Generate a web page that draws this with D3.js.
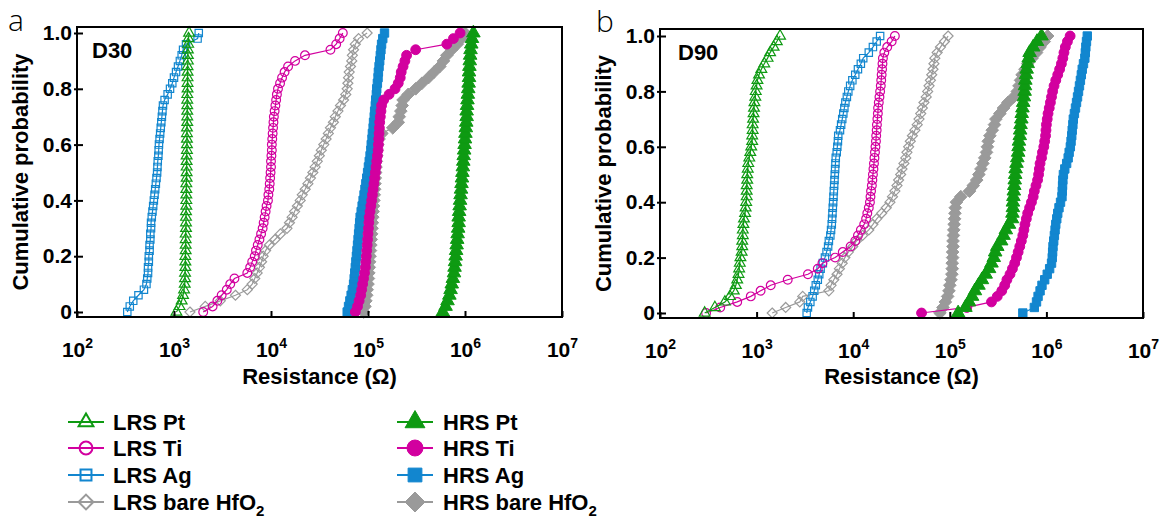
<!DOCTYPE html>
<html>
<head>
<meta charset="utf-8">
<script src="https://cdn.jsdelivr.net/npm/d3@7"></script>
<style>
  html, body { margin: 0; padding: 0; background: #fff; }
  svg { display: block; }
  text { font-family: "Liberation Sans", Arial, Helvetica, sans-serif; font-weight: bold; fill: #000; }
</style>
</head>
<body>
<svg id="chart" width="1168" height="521"></svg>
<script>
// Cumulative probability level of every measured point (rank-ordered)
const cumulativeProbability = [0,0.02,0.04,0.06,0.08,0.1,0.12,0.14,0.16,0.18,0.2,0.22,0.24,0.26,0.28,0.3,0.32,0.34,0.36,0.38,0.4,0.42,0.44,0.46,0.48,0.5,0.52,0.54,0.56,0.58,0.6,0.62,0.64,0.66,0.68,0.7,0.72,0.74,0.76,0.78,0.8,0.82,0.84,0.86,0.88,0.9,0.92,0.94,0.96,0.98,1];

const yTickValues = [0, 0.2, 0.4, 0.6, 0.8, 1.0];
const yTickLabels = ["0", "0.2", "0.4", "0.6", "0.8", "1.0"];
const xTickExponents = [2, 3, 4, 5, 6, 7];

const seriesNames = ["LRS Pt", "LRS Ti", "LRS Ag", "LRS bare HfO2", "HRS Pt", "HRS Ti", "HRS Ag", "HRS bare HfO2"];

// ---- D30 resistances (Ω), sorted ----
const d30_LRS_Pt = [1.06e3,1.14e3,1.2e3,1.24e3,1.27e3,1.29e3,1.3e3,1.3e3,1.31e3,1.31e3,
  1.31e3,1.32e3,1.32e3,1.32e3,1.32e3,1.33e3,1.33e3,1.33e3,1.33e3,1.34e3,
  1.34e3,1.34e3,1.34e3,1.34e3,1.35e3,1.35e3,1.35e3,1.35e3,1.35e3,1.36e3,
  1.36e3,1.36e3,1.36e3,1.36e3,1.37e3,1.37e3,1.37e3,1.37e3,1.37e3,1.37e3,
  1.38e3,1.38e3,1.38e3,1.38e3,1.38e3,1.39e3,1.39e3,1.39e3,1.4e3,1.41e3,
  1.43e3];
const d30_LRS_Ti = [2.0e3,2.5e3,2.8e3,3.1e3,3.5e3,3.8e3,4.2e3,5.7e3,6.1e3,6.4e3,
  6.8e3,7.0e3,7.3e3,7.6e3,7.9e3,8.2e3,8.4e3,8.6e3,8.8e3,9.0e3,
  9.3e3,9.4e3,9.6e3,9.7e3,9.8e3,9.9e3,1.0e4,1.0e4,1.01e4,1.02e4,
  1.02e4,1.03e4,1.04e4,1.05e4,1.06e4,1.07e4,1.09e4,1.11e4,1.13e4,1.15e4,
  1.18e4,1.24e4,1.3e4,1.38e4,1.5e4,1.77e4,2.24e4,4.1e4,4.7e4,5.1e4,
  5.5e4];
const d30_LRS_Ag = [3.3e2,3.5e2,3.8e2,4.3e2,4.9e2,5.2e2,5.3e2,5.4e2,5.4e2,5.5e2,
  5.5e2,5.6e2,5.6e2,5.7e2,5.7e2,5.8e2,5.8e2,5.9e2,6.0e2,6.1e2,
  6.2e2,6.3e2,6.4e2,6.5e2,6.6e2,6.7e2,6.75e2,6.8e2,6.9e2,6.95e2,
  7.0e2,7.1e2,7.2e2,7.3e2,7.4e2,7.5e2,7.6e2,7.7e2,8.0e2,8.6e2,
  9.1e2,9.6e2,1.0e3,1.05e3,1.1e3,1.15e3,1.2e3,1.24e3,1.33e3,1.75e3,
  1.8e3];
const d30_LRS_bare = [1.46e3,2.1e3,3.0e3,4.3e3,5.7e3,6.4e3,6.8e3,7.2e3,7.6e3,8.0e3,
  8.3e3,8.8e3,9.6e3,1.1e4,1.25e4,1.46e4,1.55e4,1.65e4,1.75e4,1.87e4,
  2.0e4,2.1e4,2.25e4,2.4e4,2.55e4,2.7e4,2.85e4,3.0e4,3.15e4,3.3e4,
  3.5e4,3.7e4,3.9e4,4.1e4,4.4e4,4.6e4,4.9e4,5.2e4,5.6e4,5.9e4,
  6.1e4,6.2e4,6.3e4,6.4e4,6.6e4,6.8e4,6.9e4,7.1e4,7.4e4,8.0e4,
  9.8e4];
const d30_HRS_Pt = [5.9e5,6.3e5,6.6e5,6.9e5,7.1e5,7.3e5,7.5e5,7.7e5,7.8e5,7.9e5,
  8.0e5,8.1e5,8.2e5,8.3e5,8.4e5,8.5e5,8.6e5,8.6e5,8.7e5,8.8e5,
  8.9e5,9.0e5,9.1e5,9.2e5,9.3e5,9.4e5,9.5e5,9.6e5,9.7e5,9.8e5,
  9.9e5,1.0e6,1.01e6,1.02e6,1.03e6,1.04e6,1.04e6,1.05e6,1.06e6,1.07e6,
  1.08e6,1.09e6,1.1e6,1.1e6,1.11e6,1.12e6,1.13e6,1.14e6,1.16e6,1.18e6,
  1.22e6];
const d30_HRS_Ti = [7.4e4,7.8e4,8.1e4,8.4e4,8.6e4,8.8e4,9.0e4,9.2e4,9.4e4,9.5e4,
  9.6e4,9.7e4,9.8e4,9.9e4,1.0e5,1.01e5,1.02e5,1.03e5,1.05e5,1.07e5,
  1.09e5,1.11e5,1.13e5,1.15e5,1.17e5,1.19e5,1.21e5,1.23e5,1.25e5,1.27e5,
  1.28e5,1.29e5,1.3e5,1.31e5,1.32e5,1.34e5,1.36e5,1.38e5,1.45e5,1.65e5,
  1.9e5,2.05e5,2.15e5,2.2e5,2.3e5,2.4e5,2.5e5,3.1e5,6.5e5,7.6e5,
  8.9e5];
const d30_HRS_Ag = [6.1e4,6.3e4,6.5e4,6.7e4,6.9e4,7.1e4,7.2e4,7.3e4,7.4e4,7.5e4,
  7.6e4,7.7e4,7.8e4,7.9e4,8.0e4,8.1e4,8.2e4,8.3e4,8.5e4,8.7e4,
  8.9e4,9.1e4,9.3e4,9.5e4,9.7e4,9.9e4,1.01e5,1.03e5,1.05e5,1.07e5,
  1.08e5,1.1e5,1.11e5,1.13e5,1.14e5,1.16e5,1.17e5,1.19e5,1.2e5,1.22e5,
  1.23e5,1.25e5,1.27e5,1.28e5,1.3e5,1.32e5,1.34e5,1.36e5,1.38e5,1.42e5,
  1.48e5];
const d30_HRS_bare = [9.0e4,9.3e4,9.5e4,9.7e4,9.8e4,1.0e5,1.01e5,1.02e5,1.03e5,1.04e5,
  1.05e5,1.06e5,1.07e5,1.08e5,1.09e5,1.1e5,1.11e5,1.12e5,1.13e5,1.14e5,
  1.15e5,1.16e5,1.17e5,1.18e5,1.19e5,1.2e5,1.21e5,1.22e5,1.23e5,1.24e5,
  1.26e5,1.3e5,1.39e5,1.8e5,2.05e5,2.1e5,2.18e5,2.25e5,2.3e5,2.6e5,
  3.1e5,3.6e5,4.2e5,4.8e5,5.5e5,6.0e5,6.5e5,7.3e5,8.3e5,9.2e5,
  1.0e6];

// ---- D90 resistances (Ω), sorted ----
const d90_LRS_Pt = [2.9e2,3.7e2,4.7e2,5.3e2,5.8e2,6.1e2,6.3e2,6.5e2,6.6e2,6.7e2,
  6.8e2,7.0e2,7.1e2,7.1e2,7.2e2,7.2e2,7.3e2,7.4e2,7.6e2,7.7e2,
  7.8e2,7.9e2,7.9e2,7.9e2,8.0e2,8.0e2,8.1e2,8.2e2,8.4e2,8.6e2,
  8.8e2,9.0e2,9.0e2,9.1e2,9.1e2,9.2e2,9.3e2,9.4e2,9.5e2,9.7e2,
  9.8e2,1.0e3,1.02e3,1.06e3,1.12e3,1.2e3,1.3e3,1.38e3,1.5e3,1.62e3,
  1.75e3];
const d90_LRS_Ti = [3.0e2,4.2e2,6.3e2,8.7e2,1.1e3,1.4e3,2.1e3,3.4e3,4.3e3,4.8e3,
  6.5e3,7.8e3,9.4e3,1.05e4,1.12e4,1.2e4,1.3e4,1.36e4,1.4e4,1.45e4,
  1.49e4,1.51e4,1.53e4,1.56e4,1.58e4,1.6e4,1.62e4,1.64e4,1.66e4,1.68e4,
  1.7e4,1.72e4,1.73e4,1.75e4,1.76e4,1.78e4,1.8e4,1.81e4,1.84e4,1.87e4,
  1.9e4,1.93e4,1.95e4,1.97e4,1.99e4,2.01e4,2.03e4,2.1e4,2.25e4,2.5e4,
  2.7e4];
const d90_LRS_Ag = [3.3e3,3.4e3,3.6e3,3.8e3,3.95e3,4.1e3,4.3e3,4.45e3,4.6e3,4.85e3,
  5.1e3,5.3e3,5.5e3,5.6e3,5.8e3,5.9e3,6.0e3,6.05e3,6.1e3,6.15e3,
  6.2e3,6.25e3,6.3e3,6.35e3,6.4e3,6.45e3,6.5e3,6.55e3,6.6e3,6.75e3,
  6.85e3,6.95e3,7.0e3,7.3e3,7.5e3,7.7e3,7.9e3,8.1e3,8.3e3,8.6e3,
  8.9e3,9.3e3,9.8e3,1.05e4,1.12e4,1.2e4,1.27e4,1.45e4,1.6e4,1.75e4,
  1.9e4];
const d90_LRS_bare = [1.45e3,2.0e3,2.8e3,3.0e3,5.6e3,5.9e3,6.3e3,6.8e3,7.2e3,7.7e3,
  8.2e3,8.9e3,9.9e3,1.08e4,1.25e4,1.45e4,1.6e4,1.75e4,1.97e4,2.2e4,
  2.4e4,2.55e4,2.7e4,2.84e4,2.95e4,3.1e4,3.2e4,3.35e4,3.5e4,3.6e4,
  3.75e4,3.9e4,4.1e4,4.35e4,4.6e4,4.8e4,5.0e4,5.2e4,5.4e4,5.7e4,
  5.9e4,6.1e4,6.3e4,6.5e4,6.7e4,6.85e4,7.0e4,7.4e4,8.0e4,8.8e4,
  9.6e4];
const d90_HRS_Pt = [1.22e5,1.45e5,1.58e5,1.7e5,1.82e5,1.98e5,2.15e5,2.35e5,2.55e5,2.7e5,
  2.85e5,2.95e5,3.1e5,3.4e5,3.6e5,3.8e5,4.1e5,4.4e5,4.45e5,4.5e5,
  4.5e5,4.55e5,4.6e5,4.65e5,4.7e5,4.75e5,4.8e5,4.9e5,5.0e5,5.1e5,
  5.15e5,5.2e5,5.3e5,5.35e5,5.4e5,5.5e5,5.55e5,5.65e5,5.75e5,5.85e5,
  5.95e5,6.0e5,6.05e5,6.15e5,6.25e5,6.4e5,6.55e5,6.7e5,7.3e5,8.0e5,
  8.9e5];
const d90_HRS_Ti = [5.1e4,1.5e5,2.7e5,3.1e5,3.45e5,3.7e5,3.9e5,4.2e5,4.45e5,4.7e5,
  4.9e5,5.1e5,5.3e5,5.5e5,5.7e5,5.85e5,6.0e5,6.2e5,6.4e5,6.7e5,
  7.0e5,7.3e5,7.5e5,7.8e5,8.1e5,8.3e5,8.45e5,8.6e5,8.9e5,9.1e5,
  9.4e5,9.6e5,9.8e5,9.9e5,1.0e6,1.02e6,1.04e6,1.07e6,1.1e6,1.13e6,
  1.16e6,1.2e6,1.25e6,1.31e6,1.37e6,1.43e6,1.48e6,1.52e6,1.57e6,1.65e6,
  1.76e6];
const d90_HRS_Ag = [5.7e5,7.5e5,7.9e5,8.2e5,8.6e5,9.0e5,9.6e5,1.02e6,1.08e6,1.13e6,
  1.15e6,1.16e6,1.17e6,1.19e6,1.21e6,1.23e6,1.25e6,1.28e6,1.31e6,1.35e6,
  1.4e6,1.45e6,1.46e6,1.47e6,1.48e6,1.5e6,1.55e6,1.62e6,1.68e6,1.72e6,
  1.77e6,1.8e6,1.83e6,1.85e6,1.88e6,1.9e6,1.95e6,2.0e6,2.05e6,2.1e6,
  2.15e6,2.2e6,2.25e6,2.3e6,2.35e6,2.42e6,2.5e6,2.53e6,2.56e6,2.6e6,
  2.65e6];
const d90_HRS_bare = [7.9e4,8.5e4,9.0e4,9.5e4,9.8e4,1.0e5,1.03e5,1.05e5,1.06e5,1.06e5,
  1.07e5,1.07e5,1.08e5,1.08e5,1.09e5,1.1e5,1.11e5,1.12e5,1.13e5,1.14e5,
  1.17e5,1.3e5,1.6e5,1.75e5,1.9e5,2.0e5,2.1e5,2.2e5,2.3e5,2.4e5,
  2.45e5,2.5e5,2.6e5,2.75e5,2.9e5,3.0e5,3.3e5,3.6e5,4.0e5,4.6e5,
  5.0e5,5.2e5,5.4e5,5.6e5,6.0e5,6.4e5,7.1e5,7.9e5,8.6e5,9.5e5,
  1.03e6];

// ---- appearance of each series (same order as seriesNames) ----
const GREEN = "#0e9a12", MAGENTA = "#d2009f", BLUE = "#1286cf", GRAY = "#9a9a9a";
const seriesStyles = [
  { color: GREEN,   shape: "triangle", filled: false },
  { color: MAGENTA, shape: "circle",   filled: false },
  { color: BLUE,    shape: "square",   filled: false },
  { color: GRAY,    shape: "diamond",  filled: false },
  { color: GREEN,   shape: "triangle", filled: true },
  { color: MAGENTA, shape: "circle",   filled: true },
  { color: BLUE,    shape: "square",   filled: true },
  { color: GRAY,    shape: "diamond",  filled: true }
];

const symbolDiamondSquare = {
  draw(context, size) {
    const r = Math.sqrt(size / 2);
    context.moveTo(0, -r);
    context.lineTo(r, 0);
    context.lineTo(0, r);
    context.lineTo(-r, 0);
    context.closePath();
  }
};
const shapeTypes = {
  triangle: d3.symbolTriangle,
  circle: d3.symbolCircle,
  square: d3.symbolSquare,
  diamond: symbolDiamondSquare
};
const plotSize = { triangle: 50, circle: 60, square: 54, diamond: 50 };
const plotSizeFilled = { triangle: 80, circle: 76, square: 70, diamond: 80 };

const panels = [
  { letter: "a", tag: "D30", left: 77, right: 562, top: 27, bottom: 317, y0: 312, y1: 33,
    letterX: 8, letterY: 31, tagX: 92, tagY: 58, yTitleX: 28,
    data: [d30_LRS_Pt, d30_LRS_Ti, d30_LRS_Ag, d30_LRS_bare, d30_HRS_Pt, d30_HRS_Ti, d30_HRS_Ag, d30_HRS_bare] },
  { letter: "b", tag: "D90", left: 660, right: 1143, top: 29, bottom: 318, y0: 313, y1: 36,
    letterX: 596, letterY: 32, tagX: 678, tagY: 60, yTitleX: 611,
    data: [d90_LRS_Pt, d90_LRS_Ti, d90_LRS_Ag, d90_LRS_bare, d90_HRS_Pt, d90_HRS_Ti, d90_HRS_Ag, d90_HRS_bare] }
];

const svg = d3.select("#chart");

panels.forEach(p => {
  const x = d3.scaleLog().domain([1e2, 1e7]).range([p.left, p.right]);
  const y = d3.scaleLinear().domain([0, 1]).range([p.y0, p.y1]);
  const g = svg.append("g");

  // series: drawn from the last legend entry to the first
  const line = d3.line().x(d => x(d.r)).y(d => y(d.p));
  for (let s = seriesStyles.length - 1; s >= 0; s--) {
    const st = seriesStyles[s];
    const pts = p.data[s].map((r, i) => ({ r, p: cumulativeProbability[i] }));
    const sg = g.append("g");
    sg.append("path").datum(pts)
      .attr("d", line)
      .attr("fill", "none")
      .attr("stroke", st.color)
      .attr("stroke-width", 1.2);
    const sym = d3.symbol().type(shapeTypes[st.shape])
      .size(st.filled ? plotSizeFilled[st.shape] : plotSize[st.shape]);
    sg.selectAll("path.mk").data(pts).join("path")
      .attr("class", "mk")
      .attr("transform", d => `translate(${x(d.r)},${y(d.p)})`)
      .attr("d", sym)
      .attr("fill", st.filled ? st.color : "none")
      .attr("stroke", st.color)
      .attr("stroke-width", st.filled ? 1 : 1.2);
  }

  // x axis: inward ticks with power-of-ten labels
  const xAxis = d3.axisBottom(x)
    .tickValues(xTickExponents.map(e => Math.pow(10, e)))
    .tickSize(-6).tickFormat("");
  const xg = g.append("g").attr("transform", `translate(0,${p.bottom})`).call(xAxis);
  xg.select(".domain").remove();
  xg.selectAll(".tick line").attr("stroke", "#000").attr("stroke-width", 2);
  xg.selectAll(".tick").each(function (d, i) {
    const t = d3.select(this).append("text")
      .attr("y", 40).attr("text-anchor", "middle")
      .attr("font-size", 21).attr("fill", "#000");
    t.append("tspan").text("10");
    t.append("tspan").attr("dy", -9).attr("font-size", 14).text(xTickExponents[i]);
  });

  // y axis: crossing ticks with decimal labels
  const yAxis = d3.axisLeft(y).tickValues(yTickValues)
    .tickSizeInner(-6).tickSizeOuter(0).tickPadding(5)
    .tickFormat((d, i) => yTickLabels[i]);
  const yg = g.append("g").attr("transform", `translate(${p.left},0)`).call(yAxis);
  yg.select(".domain").remove();
  yg.selectAll(".tick line").attr("stroke", "#000").attr("stroke-width", 2).attr("x1", -3);
  yg.selectAll(".tick text")
    .attr("font-size", 21).attr("font-family", "Liberation Sans, Arial, sans-serif")
    .attr("font-weight", "bold").attr("fill", "#000");
  yg.attr("font-size", null).attr("font-family", null);
  xg.attr("font-size", null).attr("font-family", null);

  // frame
  g.append("rect")
    .attr("x", p.left).attr("y", p.top)
    .attr("width", p.right - p.left).attr("height", p.bottom - p.top)
    .attr("fill", "none").attr("stroke", "#000").attr("stroke-width", 2);

  // titles
  g.append("text")
    .attr("x", (p.left + p.right) / 2).attr("y", 384)
    .attr("text-anchor", "middle").attr("font-size", 22)
    .text("Resistance (Ω)");
  g.append("text")
    .attr("transform", `translate(${p.yTitleX},${(p.top + p.bottom) / 2}) rotate(-90)`)
    .attr("text-anchor", "middle").attr("font-size", 22)
    .text("Cumulative probability");
  g.append("text")
    .attr("x", p.tagX).attr("y", p.tagY).attr("font-size", 22)
    .text(p.tag);
  g.append("text")
    .attr("x", p.letterX).attr("y", p.letterY)
    .style("font-family", "'Open Sans', 'DejaVu Sans', sans-serif")
    .style("font-weight", 300).attr("font-size", 30)
    .text(p.letter);
});

// legend: two columns of four entries
const legendRows = [422, 448, 475, 502];
const legendCols = [{ cx: 86, tx: 113 }, { cx: 415, tx: 443 }];
const legendSize = { triangle: 95, circle: 130, square: 120, diamond: 110 };
const legendSizeFilled = { triangle: 170, circle: 200, square: 190, diamond: 200 };
const legend = svg.append("g");
seriesNames.forEach((name, s) => {
  const st = seriesStyles[s];
  const col = legendCols[Math.floor(s / 4)];
  const yy = legendRows[s % 4];
  const lg = legend.append("g");
  lg.append("line")
    .attr("x1", col.cx - 18).attr("x2", col.cx + 18)
    .attr("y1", yy).attr("y2", yy)
    .attr("stroke", st.color).attr("stroke-width", 2);
  lg.append("path")
    .attr("transform", `translate(${col.cx},${yy})`)
    .attr("d", d3.symbol().type(shapeTypes[st.shape])
      .size(st.filled ? legendSizeFilled[st.shape] : legendSize[st.shape]))
    .attr("fill", st.filled ? st.color : "none")
    .attr("stroke", st.color).attr("stroke-width", st.filled ? 1 : 2);
  const t = lg.append("text").attr("x", col.tx).attr("y", yy + 8).attr("font-size", 22);
  if (name.endsWith("HfO2")) {
    t.append("tspan").text(name.slice(0, -1));
    t.append("tspan").attr("dy", 6).attr("font-size", 15).text("2");
  } else {
    t.text(name);
  }
});
</script>
</body>
</html>
